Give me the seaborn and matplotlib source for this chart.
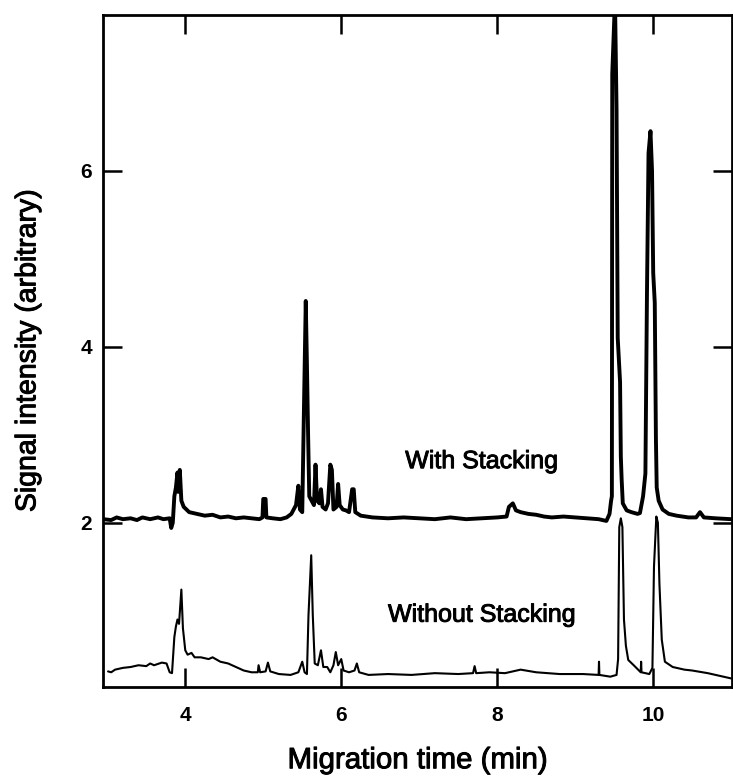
import matplotlib
matplotlib.use("Agg")
import matplotlib.pyplot as plt
import matplotlib.patheffects as pe
import pandas as pd
import seaborn as sns

# Electropherogram traces: migration time (min) and signal (arbitrary units)
with_t = [2.95, 3.05, 3.12, 3.20, 3.30, 3.38, 3.45, 3.55, 3.65, 3.72, 3.80, 3.82, 3.84,
          3.86, 3.88, 3.90, 3.91, 3.93, 3.95, 3.98, 4.05, 4.15, 4.25, 4.35, 4.45, 4.55,
          4.65, 4.75, 4.85, 4.95, 4.99, 5.00, 5.03, 5.04, 5.12, 5.22, 5.30, 5.36, 5.42,
          5.45, 5.47, 5.50, 5.52, 5.545, 5.56, 5.575, 5.59, 5.62, 5.65, 5.67, 5.69, 5.72,
          5.74, 5.76, 5.80, 5.83, 5.86, 5.88, 5.90, 5.94, 5.96, 5.98, 6.02, 6.06, 6.10,
          6.14, 6.16, 6.18, 6.25, 6.40, 6.60, 6.80, 7.00, 7.20, 7.40, 7.60, 7.80, 8.00,
          8.12, 8.15, 8.20, 8.24, 8.30, 8.40, 8.50, 8.60, 8.70, 8.85, 9.00, 9.15, 9.30,
          9.40, 9.44, 9.46, 9.47, 9.475, 9.51, 9.53, 9.545, 9.575, 9.585, 9.595, 9.61,
          9.66, 9.72, 9.80, 9.83, 9.87, 9.90, 9.92, 9.94, 9.965, 9.985, 10.00, 10.02,
          10.035, 10.045, 10.07, 10.12, 10.20, 10.30, 10.45, 10.55, 10.60, 10.65, 10.80,
          11.00]
with_s = [2.04, 2.03, 2.06, 2.04, 2.05, 2.03, 2.06, 2.04, 2.06, 2.04, 2.05, 1.94, 2.00,
          2.30, 2.40, 2.57, 2.35, 2.60, 2.25, 2.18, 2.12, 2.10, 2.08, 2.09, 2.06, 2.07,
          2.05, 2.06, 2.05, 2.04, 2.06, 2.27, 2.27, 2.06, 2.05, 2.04, 2.06, 2.10, 2.20,
          2.42, 2.15, 2.12, 3.20, 4.52, 3.80, 3.00, 2.30, 2.25, 2.20, 2.66, 2.25, 2.22,
          2.38, 2.18, 2.15, 2.22, 2.66, 2.60, 2.15, 2.18, 2.44, 2.20, 2.15, 2.14, 2.12,
          2.38, 2.38, 2.12, 2.08, 2.06, 2.05, 2.06, 2.05, 2.04, 2.06, 2.04, 2.05, 2.06,
          2.07, 2.18, 2.22, 2.14, 2.12, 2.10, 2.09, 2.07, 2.06, 2.07, 2.06, 2.05, 2.04,
          2.02, 2.10, 2.25, 2.30, 7.10, 7.95, 6.70, 4.10, 3.60, 2.75, 2.50, 2.22,
          2.14, 2.12, 2.10, 2.11, 2.30, 2.56, 4.60, 6.20, 6.45, 6.00, 4.84, 4.50,
          2.94, 2.40, 2.25, 2.15, 2.10, 2.08, 2.06, 2.06, 2.12, 2.06, 2.05,
          2.04]

without_t = [3.01, 3.05, 3.10, 3.20, 3.30, 3.40, 3.50, 3.55, 3.60, 3.70, 3.76, 3.80, 3.83,
             3.86, 3.88, 3.90, 3.92, 3.95, 3.97, 4.00, 4.03, 4.08, 4.12, 4.20, 4.30, 4.35,
             4.45, 4.55, 4.65, 4.75, 4.85, 4.93, 4.94, 4.96, 5.03, 5.06, 5.09, 5.20, 5.35,
             5.45, 5.50, 5.53, 5.56, 5.58, 5.615, 5.635, 5.66, 5.70, 5.74, 5.77, 5.82, 5.86,
             5.90, 5.93, 5.96, 6.00, 6.03, 6.10, 6.17, 6.20, 6.23, 6.35, 6.60, 6.90, 7.20,
             7.50, 7.69, 7.71, 7.73, 7.90, 8.10, 8.30, 8.50, 8.80, 9.10, 9.30, 9.305, 9.31,
             9.45, 9.53, 9.55, 9.565, 9.585, 9.605, 9.625, 9.65, 9.68, 9.75, 9.84, 9.845,
             9.85, 9.95, 9.99, 10.01, 10.04, 10.06, 10.08, 10.11, 10.15, 10.25, 10.40, 10.50,
             10.70, 10.85, 11.00]
without_s = [0.31, 0.30, 0.33, 0.35, 0.36, 0.38, 0.37, 0.40, 0.38, 0.41, 0.40, 0.30, 0.29,
             0.70, 0.82, 0.90, 0.85, 1.24, 0.80, 0.55, 0.50, 0.52, 0.47, 0.47, 0.45, 0.47,
             0.42, 0.40, 0.36, 0.32, 0.30, 0.30, 0.38, 0.30, 0.31, 0.41, 0.31, 0.28, 0.27,
             0.30, 0.42, 0.30, 0.28, 0.95, 1.63, 0.95, 0.40, 0.38, 0.55, 0.36, 0.36, 0.30,
             0.38, 0.53, 0.38, 0.45, 0.32, 0.30, 0.32, 0.40, 0.30, 0.27, 0.28, 0.27, 0.29,
             0.28, 0.29, 0.37, 0.29, 0.30, 0.29, 0.33, 0.30, 0.28, 0.28, 0.27, 0.42, 0.27,
             0.25, 0.27, 0.45, 1.95, 2.05, 1.95, 0.90, 0.60, 0.44, 0.38, 0.30, 0.42,
             0.30, 0.28, 0.35, 1.50, 2.07, 2.00, 1.30, 0.67, 0.42, 0.36, 0.33, 0.32,
             0.29, 0.26, 0.23]

x_ticks = [4, 6, 8, 10]
y_ticks = [2, 4, 6]
trace_labels = ["With Stacking", "Without Stacking"]

sns.set_theme(style="ticks")
plt.rcParams["font.family"] = ["Liberation Sans", "DejaVu Sans"]
plt.rcParams["text.color"] = "black"
plt.rcParams["axes.labelcolor"] = "black"
plt.rcParams["xtick.color"] = "black"
plt.rcParams["ytick.color"] = "black"

# slight stroke to give the lettering a heavier, printed look
heavy = [pe.withStroke(linewidth=0.7, foreground="black")]

fig = plt.figure(figsize=(7.33, 7.78), dpi=100)
ax = fig.add_axes([0.1405, 0.117, 0.8581, 0.8637])

df_with = pd.DataFrame({"t": with_t, "s": with_s})
df_without = pd.DataFrame({"t": without_t, "s": without_s})

sns.lineplot(data=df_with, x="t", y="s", ax=ax, color="black", linewidth=2.8,
             estimator=None, sort=False)
sns.lineplot(data=df_without, x="t", y="s", ax=ax, color="black", linewidth=1.5,
             estimator=None, sort=False)

ax.set_xlim(2.945, 11.01)
ax.set_ylim(0.133, 7.77)
ax.set_xticks(x_ticks)
ax.set_yticks(y_ticks)
ax.set_xticklabels([str(v) for v in x_ticks], fontsize=15, fontweight="bold")
ax.set_yticklabels([str(v) for v in y_ticks], fontsize=15, fontweight="bold")
ax.tick_params(axis="both", which="major", direction="in", length=13.5, width=1.8,
               color="black", labelcolor="black", top=True, right=True)
ax.tick_params(axis="x", pad=14)
ax.tick_params(axis="y", pad=8)

for side in ["left", "right", "top", "bottom"]:
    ax.spines[side].set_visible(True)
    ax.spines[side].set_linewidth(2.0)
    ax.spines[side].set_color("black")

ax.set_xlabel("Migration time (min)", fontsize=21.2, labelpad=15, color="black",
              path_effects=heavy)
ax.set_ylabel("Signal intensity (arbitrary)", fontsize=20.5, labelpad=28, color="black",
              path_effects=heavy)

ax.text(6.82, 2.62, trace_labels[0], fontsize=18, ha="left", va="baseline",
        color="black", path_effects=heavy)
ax.text(6.60, 0.875, trace_labels[1], fontsize=18, ha="left", va="baseline",
        color="black", path_effects=heavy)

fig.savefig("out.png", dpi=100, facecolor="white")
